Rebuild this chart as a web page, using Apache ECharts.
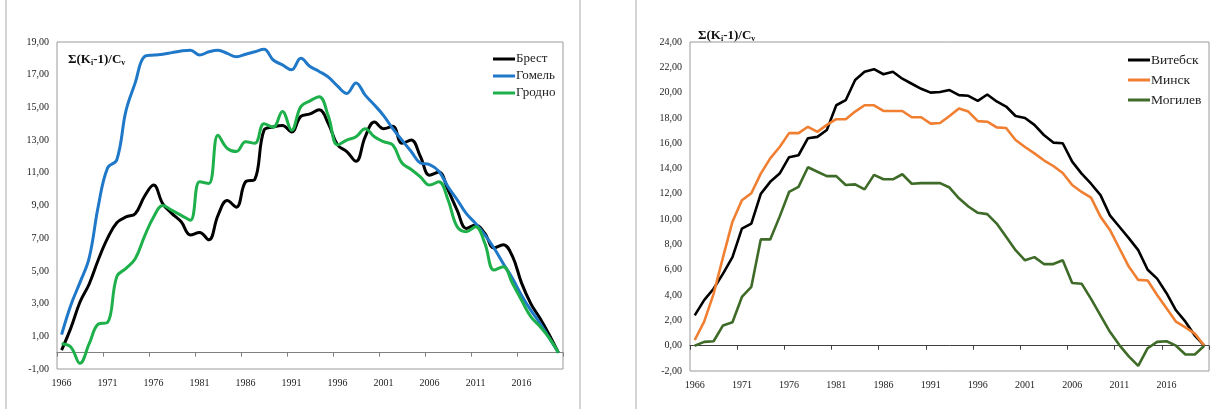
<!DOCTYPE html>
<html><head><meta charset="utf-8">
<script src="https://cdn.jsdelivr.net/npm/echarts@6/dist/echarts.min.js"></script>
<style>html,body{margin:0;padding:0;background:#fff;}#c{width:1215px;height:409px;}</style>
</head><body><div id="c"></div>
<script>
const years = ['1966','1967','1968','1969','1970','1971','1972','1973','1974','1975','1976','1977','1978','1979','1980','1981','1982','1983','1984','1985','1986','1987','1988','1989','1990','1991','1992','1993','1994','1995','1996','1997','1998','1999','2000','2001','2002','2003','2004','2005','2006','2007','2008','2009','2010','2011','2012','2013','2014','2015','2016','2017','2018','2019','2020'];

// left chart
const brest  = [0.16,1.5,3.1,4.2,5.7,7.0,7.95,8.3,8.5,9.55,10.25,9.1,8.5,8.0,7.2,7.35,6.9,8.4,9.3,8.9,10.45,10.6,13.6,13.8,13.9,13.5,14.45,14.6,14.85,14.0,12.7,12.3,11.7,13.2,14.1,13.7,13.85,12.8,13.0,12.0,10.85,11.05,9.95,8.7,7.6,7.8,7.3,6.4,6.6,5.9,4.25,3.0,2.1,1.1,0];
const gomel  = [1.1,2.9,4.3,5.8,9.0,11.3,11.8,14.8,16.5,18.1,18.2,18.25,18.35,18.45,18.5,18.2,18.4,18.5,18.3,18.1,18.25,18.4,18.55,17.9,17.6,17.3,18.0,17.5,17.2,16.85,16.3,15.85,16.5,15.75,15.15,14.5,13.7,13.0,12.3,11.6,11.5,11.1,10.15,9.35,8.5,7.9,7.2,6.4,5.45,4.55,3.5,2.6,1.8,0.9,0];
const grodno = [0.55,0.35,-0.65,0.55,1.75,1.85,4.65,5.15,5.75,7.1,8.3,9.0,8.7,8.4,8.1,10.45,10.35,13.3,12.5,12.3,12.9,12.8,14.0,13.8,14.75,13.6,15.05,15.4,15.65,14.45,12.7,13.0,13.2,13.7,13.2,12.9,12.7,11.6,11.2,10.75,10.25,10.45,9.35,7.7,7.4,7.7,6.7,5.05,5.25,4.25,3.2,2.2,1.6,0.9,0];

// right chart
const vitebsk  = [2.4,3.6,4.5,5.7,7.0,9.25,9.65,12.0,12.95,13.6,14.9,15.05,16.4,16.5,17.05,19.0,19.4,21.0,21.65,21.85,21.45,21.65,21.1,20.7,20.3,20.0,20.05,20.2,19.8,19.75,19.35,19.85,19.3,18.9,18.15,18.0,17.45,16.65,16.05,16.0,14.55,13.6,12.8,11.9,10.3,9.4,8.5,7.55,6.0,5.3,4.15,2.8,1.9,0.8,0];
const minsk    = [0.45,1.9,4.1,7.0,9.8,11.5,12.05,13.6,14.8,15.7,16.8,16.8,17.3,16.9,17.45,17.9,17.9,18.5,19.0,19.0,18.55,18.55,18.55,18.05,18.05,17.55,17.6,18.15,18.75,18.5,17.75,17.7,17.25,17.2,16.25,15.7,15.2,14.65,14.2,13.65,12.7,12.15,11.7,10.2,9.15,7.7,6.25,5.2,5.15,4.0,2.95,1.9,1.45,0.95,0];
const mogilev  = [0.0,0.3,0.35,1.6,1.85,3.85,4.65,8.4,8.4,10.2,12.15,12.55,14.1,13.75,13.4,13.4,12.7,12.75,12.35,13.5,13.15,13.15,13.55,12.8,12.85,12.85,12.85,12.5,11.65,11.0,10.5,10.4,9.65,8.6,7.55,6.75,7.0,6.45,6.45,6.75,4.95,4.9,3.7,2.4,1.1,0.05,-0.85,-1.6,-0.2,0.3,0.35,0.0,-0.7,-0.7,0];

const leftNames  = ['Брест','Гомель','Гродно'];
const rightNames = ['Витебск','Минск','Могилев'];
const leftY  = {min:-1, max:19, step:2};
const rightY = {min:-2, max:24, step:2};

const serif = '"Liberation Serif", "Times New Roman", serif';
const fmt = v => v.toFixed(2).replace('.', ',');

function labelAxis(gi){
  return {type:'category', gridIndex:gi, data:years, boundaryGap:true, position:'bottom',
    axisLine:{show:false, onZero:false}, axisTick:{show:false}, splitLine:{show:false},
    axisLabel:{interval:4, fontFamily:serif, fontSize:10, color:'#222', margin:9}};
}
function zeroAxis(gi, color){
  return {type:'category', gridIndex:gi, data:years, boundaryGap:true, position:'bottom',
    axisLine:{show:true, onZero:true, onZeroAxisIndex:gi, lineStyle:{color:color, width:1}},
    axisTick:{show:true, interval:4, length:4, lineStyle:{color:color, width:1}},
    axisLabel:{show:false}, splitLine:{show:false}};
}
function valAxis(gi, r){
  return {type:'value', gridIndex:gi, min:r.min, max:r.max, interval:r.step,
    axisLine:{show:false}, axisTick:{show:false}, splitLine:{show:false},
    axisLabel:{formatter:fmt, fontFamily:serif, fontSize:10, color:'#222', margin:8}};
}
function line(name, data, color, xi, yi, smooth, w){
  return {type:'line', name:name, data:data, xAxisIndex:xi, yAxisIndex:yi, smooth:smooth,
    showSymbol:false, symbol:'none', lineStyle:{color:color, width:w}, itemStyle:{color:color},
    emphasis:{disabled:true}, animation:false};
}
const titleRich = {
  b:{fontFamily:serif, fontWeight:'bold', fontSize:13, color:'#111', lineHeight:15},
  s:{fontFamily:serif, fontWeight:'bold', fontSize:8, color:'#111', lineHeight:15, verticalAlign:'bottom'}
};
const titleText = '{b|Σ(K}{s|i}{b|-1)/C}{s|v}';

const chart = echarts.init(document.getElementById('c'), null, {renderer:'canvas'});
chart.setOption({
  animation:false,
  backgroundColor:'#fff',
  title:[
    {text:titleText, left:68, top:52, padding:0, textStyle:{rich:titleRich}},
    {text:titleText, left:698, top:28, padding:0, textStyle:{rich:titleRich}}
  ],
  graphic:[
    {type:'line', shape:{x1:6, y1:0, x2:6, y2:409}, style:{stroke:'#d4d4d4', lineWidth:2}},
    {type:'line', shape:{x1:580, y1:0, x2:580, y2:409}, style:{stroke:'#d4d4d4', lineWidth:2}},
    {type:'line', shape:{x1:636, y1:0, x2:636, y2:409}, style:{stroke:'#d4d4d4', lineWidth:2}}
  ],
  grid:[
    {left:57, right:652, top:42, bottom:40, show:true, borderColor:'#9a9a9a', borderWidth:1, outerBoundsMode:'none'},
    {left:690, right:6, top:42, bottom:38, show:true, borderColor:'#9a9a9a', borderWidth:1, outerBoundsMode:'none'}
  ],
  xAxis:[labelAxis(0), zeroAxis(0,'#808080'), labelAxis(1), zeroAxis(1,'#404040')],
  yAxis:[valAxis(0,leftY), valAxis(1,rightY)],
  legend:[
    {data:leftNames, orient:'vertical', left:488, top:47, icon:'rect', itemWidth:22, itemHeight:3, itemGap:3,
     selectedMode:false, textStyle:{fontFamily:serif, fontSize:13, color:'#222', lineHeight:14, padding:[0,0,0,-4]}},
    {data:rightNames, orient:'vertical', left:1123, top:48, icon:'rect', itemWidth:22, itemHeight:3, itemGap:6,
     selectedMode:false, textStyle:{fontFamily:serif, fontSize:13.5, color:'#222', lineHeight:14, padding:[0,0,0,-4]}}
  ],
  series:[
    line('Брест', brest, '#000000', 0, 0, 0.4, 3),
    line('Гомель', gomel, '#1f78c8', 0, 0, 0.4, 3),
    line('Гродно', grodno, '#1db04b', 0, 0, 0.4, 3),
    line('Витебск', vitebsk, '#000000', 2, 1, false, 2.6),
    line('Минск', minsk, '#f07f32', 2, 1, false, 2.6),
    line('Могилев', mogilev, '#3e6b28', 2, 1, false, 2.6)
  ]
});
</script></body></html>
